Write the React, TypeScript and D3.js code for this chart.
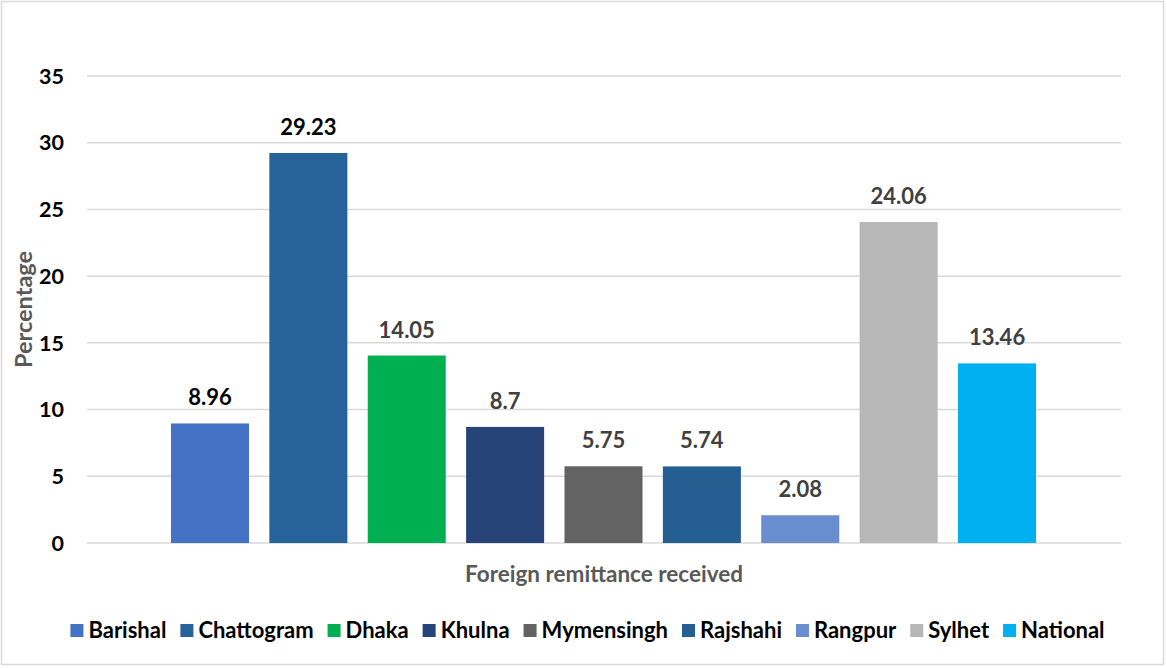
import React, { useEffect, useRef } from "react";
import * as d3 from "d3";

const seriesNames = ["Barishal", "Chattogram", "Dhaka", "Khulna", "Mymensingh", "Rajshahi", "Rangpur", "Sylhet", "National"];
const seriesValues = [8.96, 29.23, 14.05, 8.7, 5.75, 5.74, 2.08, 24.06, 13.46];
const seriesColors = ["#4472C4", "#27629A", "#00B050", "#264478", "#636363", "#255E91", "#698ED0", "#B7B7B7", "#00B0F0"];
const labelColors = ["#000000", "#000000", "#404040", "#404040", "#404040", "#404040", "#404040", "#404040", "#404040"];
const yTicks = [0, 5, 10, 15, 20, 25, 30, 35];
const categoryLabel = "Foreign remittance received";
const yAxisTitle = "Percentage";

const W = 1167;
const H = 668;
const FONT = "Lato, 'Open Sans', sans-serif";

export default function App() {
  const ref = useRef<SVGSVGElement | null>(null);

  useEffect(() => {
    const svg = d3.select(ref.current);
    svg.selectAll("*").remove();

    svg.append("rect").attr("x", 1.5).attr("y", 1.5).attr("width", W - 5).attr("height", H - 5)
      .attr("fill", "#fff").attr("stroke", "#d9d9d9").attr("stroke-width", 1.5);

    const plotLeft = 87, plotRight = 1121, plotTop = 76, plotBottom = 543;
    const y = d3.scaleLinear().domain([0, 35]).range([plotBottom, plotTop]);
    const x = d3.scaleBand<string>().domain(seriesNames).range([160.8, 1046.2]).paddingInner(0.207).paddingOuter(0.1035);

    const grid = svg.append("g");
    grid.selectAll("line").data(yTicks).join("line")
      .attr("x1", plotLeft).attr("x2", plotRight)
      .attr("y1", d => y(d)).attr("y2", d => y(d))
      .attr("stroke", "#d9d9d9").attr("stroke-width", 1.5);

    svg.append("g").selectAll("text").data(yTicks).join("text")
      .attr("x", 64).attr("y", d => y(d)).attr("dy", "0.36em")
      .attr("text-anchor", "end").attr("font-family", FONT).attr("font-weight", "bold")
      .attr("font-size", 21.5).attr("fill", "#000").text(d => String(d));

    const data = seriesNames.map((n, i) => ({ n, v: seriesValues[i], c: seriesColors[i], lc: labelColors[i] }));

    svg.append("g").selectAll("rect").data(data).join("rect")
      .attr("x", d => x(d.n)!).attr("width", x.bandwidth())
      .attr("y", d => y(d.v)).attr("height", d => plotBottom - y(d.v))
      .attr("fill", d => d.c);

    svg.append("g").selectAll("text").data(data).join("text")
      .attr("x", d => x(d.n)! + x.bandwidth() / 2).attr("y", d => y(d.v) - 18)
      .attr("text-anchor", "middle").attr("font-family", FONT).attr("font-weight", "bold")
      .attr("font-size", 22).attr("fill", d => d.lc).text(d => String(d.v));

    svg.append("text").attr("x", (plotLeft + plotRight) / 2).attr("y", 582)
      .attr("text-anchor", "middle").attr("font-family", FONT).attr("font-weight", "bold")
      .attr("font-size", 22.5).attr("fill", "#595959").text(categoryLabel);

    svg.append("text").attr("transform", `translate(32,${(plotTop + plotBottom) / 2}) rotate(-90)`)
      .attr("text-anchor", "middle").attr("font-family", FONT).attr("font-weight", "bold")
      .attr("font-size", 23.5).attr("fill", "#595959").text(yAxisTitle);

    // legend
    const lg = svg.append("g");
    const items = lg.selectAll("g").data(data).join("g");
    items.append("rect").attr("width", 13).attr("height", 13).attr("y", -12).attr("fill", d => d.c);
    const texts = items.append("text").attr("x", 18).attr("y", 0).attr("dy", "0.1em")
      .attr("font-family", FONT).attr("font-weight", "bold").attr("font-size", 22)
      .attr("fill", "#000").text(d => d.n);
    const widths: number[] = [];
    texts.each(function () { widths.push((this as SVGTextElement).getComputedTextLength()); });
    const gap = 14;
    const total = d3.sum(widths) + widths.length * 18 + (widths.length - 1) * gap;
    let cx = (72 + 1103) / 2 - total / 2;
    const offs: number[] = [];
    widths.forEach(w => { offs.push(cx); cx += 18 + w + gap; });
    items.attr("transform", (_d, i) => `translate(${offs[i]},636)`);
  }, []);

  return <svg ref={ref} width={W} height={H} style={{ display: "block", position: "absolute", left: 0, top: 0 }} />;
}
